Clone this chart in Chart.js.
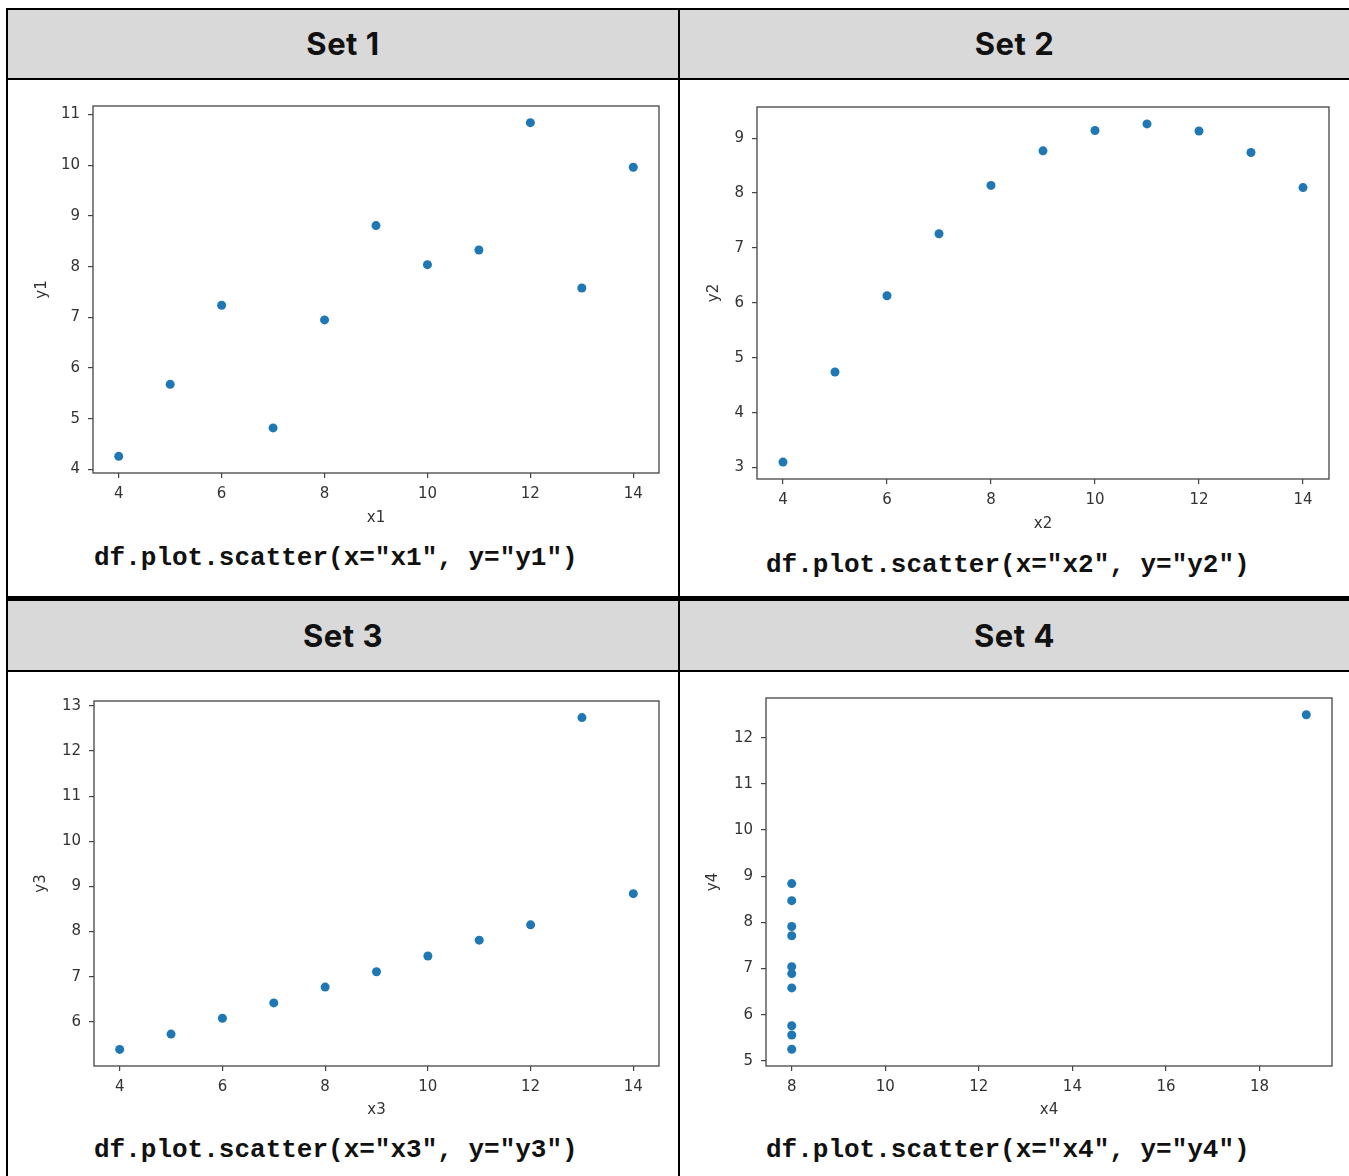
<!DOCTYPE html>
<html>
<head>
<meta charset="utf-8">
<script src="https://cdn.jsdelivr.net/npm/chart.js@4.4.1/dist/chart.umd.min.js"></script>
<style>
  body { margin: 0; background: #fff; width: 1349px; height: 1176px; position: relative; overflow: hidden; }
  .abs { position: absolute; }
  .line { position: absolute; background: #000; }
  .head { position: absolute; background: #d9d9d9; font-family: "Inter", "Noto Sans", sans-serif; font-weight: 700;
          font-size: 31px; color: #111; text-align: center; letter-spacing: 0.5px; }
  .code { position: absolute; font-family: "Liberation Mono", "Courier New", monospace; font-weight: bold;
          font-size: 26px; color: #111; white-space: pre; line-height: 30px; }
</style>
</head>
<body>

<div class="head" style="left:8px; top:10px; width:670px; height:68px; line-height:68px;">Set 1</div>
<div class="head" style="left:680px; top:10px; width:669px; height:68px; line-height:68px;">Set 2</div>
<div class="head" style="left:8px; top:601px; width:670px; height:69px; line-height:69px;">Set 3</div>
<div class="head" style="left:680px; top:601px; width:669px; height:69px; line-height:69px;">Set 4</div>

<div class="line" style="left:6px; top:8px; width:1343px; height:2px;"></div>
<div class="line" style="left:6px; top:78px; width:1343px; height:2px;"></div>
<div class="line" style="left:6px; top:596px; width:1343px; height:5px;"></div>
<div class="line" style="left:6px; top:670px; width:1343px; height:2px;"></div>
<div class="line" style="left:6px; top:8px; width:2px; height:1168px;"></div>
<div class="line" style="left:678px; top:8px; width:2px; height:1168px;"></div>

<div class="code" style="left:94px; top:543px;">df.plot.scatter(x="x1", y="y1")</div>
<div class="code" style="left:766px; top:550px;">df.plot.scatter(x="x2", y="y2")</div>
<div class="code" style="left:94px; top:1135px;">df.plot.scatter(x="x3", y="y3")</div>
<div class="code" style="left:766px; top:1135px;">df.plot.scatter(x="x4", y="y4")</div>

<canvas id="c1" class="abs"></canvas>
<canvas id="c2" class="abs"></canvas>
<canvas id="c3" class="abs"></canvas>
<canvas id="c4" class="abs"></canvas>

<script>
// Anscombe's quartet
const x123 = [10, 8, 13, 9, 11, 14, 6, 4, 12, 7, 5]
const y1 = [8.04, 6.95, 7.58, 8.81, 8.33, 9.96, 7.24, 4.26, 10.84, 4.82, 5.68]
const y2 = [9.14, 8.14, 8.74, 8.77, 9.26, 8.10, 6.13, 3.10, 9.13, 7.26, 4.74]
const y3 = [7.46, 6.77, 12.74, 7.11, 7.81, 8.84, 6.08, 5.39, 8.15, 6.42, 5.73]
const x4 = [8, 8, 8, 8, 8, 8, 8, 19, 8, 8, 8]
const y4 = [6.58, 5.76, 7.71, 8.84, 8.47, 7.04, 5.25, 12.50, 5.56, 7.91, 6.89]

const xTicks123 = [4, 6, 8, 10, 12, 14]
const xTicks4 = [8, 10, 12, 14, 16, 18]
const yTicks1 = [4, 5, 6, 7, 8, 9, 10, 11]
const yTicks2 = [3, 4, 5, 6, 7, 8, 9]
const yTicks3 = [6, 7, 8, 9, 10, 11, 12, 13]
const yTicks4 = [5, 6, 7, 8, 9, 10, 11, 12]

const YW = 80, XH = 60, PT = 24, PR = 14
const FS = 15
const LH = FS * 1.2

// matplotlib-like 5% margins
function limits(vals) {
  const lo = Math.min(...vals), hi = Math.max(...vals)
  const m = (hi - lo) * 0.05
  return [lo - m, hi + m]
}

const frame = {
  id: "frame",
  afterDraw(chart) {
    const { ctx, chartArea: a } = chart
    ctx.save()
    ctx.strokeStyle = "#444"
    ctx.lineWidth = 1.3
    ctx.strokeRect(a.left, a.top, a.right - a.left, a.bottom - a.top)
    ctx.restore()
  }
}

function scatter(id, xs, ys, xTicks, yTicks, xName, yName, box, yLabX, xLabY) {
  const cv = document.getElementById(id)
  cv.width = box.r - box.l + YW + PR
  cv.height = box.b - box.t + PT + XH
  cv.style.left = (box.l - YW) + "px"
  cv.style.top = (box.t - PT) + "px"

  const [xmin, xmax] = limits(xs)
  const [ymin, ymax] = limits(ys)
  const tickFont = { family: "DejaVu Sans", size: FS }
  const titleFont = { family: "DejaVu Sans", size: FS, lineHeight: 1.2 }

  new Chart(cv, {
    type: "scatter",
    data: {
      datasets: [{
        data: xs.map((x, i) => ({ x, y: ys[i] })),
        backgroundColor: "#1f77b4",
        borderColor: "#1f77b4",
        borderWidth: 0,
        pointRadius: 4.5
      }]
    },
    options: {
      responsive: false,
      animation: false,
      layout: { padding: { left: 0, top: PT, right: PR, bottom: 0 } },
      plugins: { legend: { display: false }, tooltip: { enabled: false } },
      scales: {
        x: {
          type: "linear",
          min: xmin, max: xmax,
          afterBuildTicks: s => { s.ticks = xTicks.map(v => ({ value: v })) },
          afterFit: s => { s.height = XH },
          border: { display: false },
          grid: { drawOnChartArea: false, drawTicks: true, tickLength: 5, color: "#444", lineWidth: 1.2 },
          ticks: { font: tickFont, color: "#333", padding: 7, maxRotation: 0 },
          title: {
            display: true, text: xName, color: "#333", font: titleFont,
            padding: { top: 0, bottom: box.b + XH - xLabY - LH / 2 }
          }
        },
        y: {
          type: "linear",
          min: ymin, max: ymax,
          afterBuildTicks: s => { s.ticks = yTicks.map(v => ({ value: v })) },
          afterFit: s => { s.width = YW },
          border: { display: false },
          grid: { drawOnChartArea: false, drawTicks: true, tickLength: 5, color: "#444", lineWidth: 1.2 },
          ticks: { font: tickFont, color: "#333", padding: 8 },
          title: {
            display: true, text: yName, color: "#333", font: titleFont,
            padding: { top: yLabX - (box.l - YW) - LH / 2, bottom: 0 }
          }
        }
      }
    },
    plugins: [frame]
  })
}

scatter("c1", x123, y1, xTicks123, yTicks1, "x1", "y1", { l: 93, t: 106, r: 659, b: 473 }, 42, 518)
scatter("c2", x123, y2, xTicks123, yTicks2, "x2", "y2", { l: 757, t: 107, r: 1329, b: 479 }, 714, 524)
scatter("c3", x123, y3, xTicks123, yTicks3, "x3", "y3", { l: 94, t: 701, r: 659, b: 1066 }, 41, 1110)
scatter("c4", x4, y4, xTicks4, yTicks4, "x4", "y4", { l: 766, t: 698, r: 1332, b: 1066 }, 713, 1110)
</script>
</body>
</html>
